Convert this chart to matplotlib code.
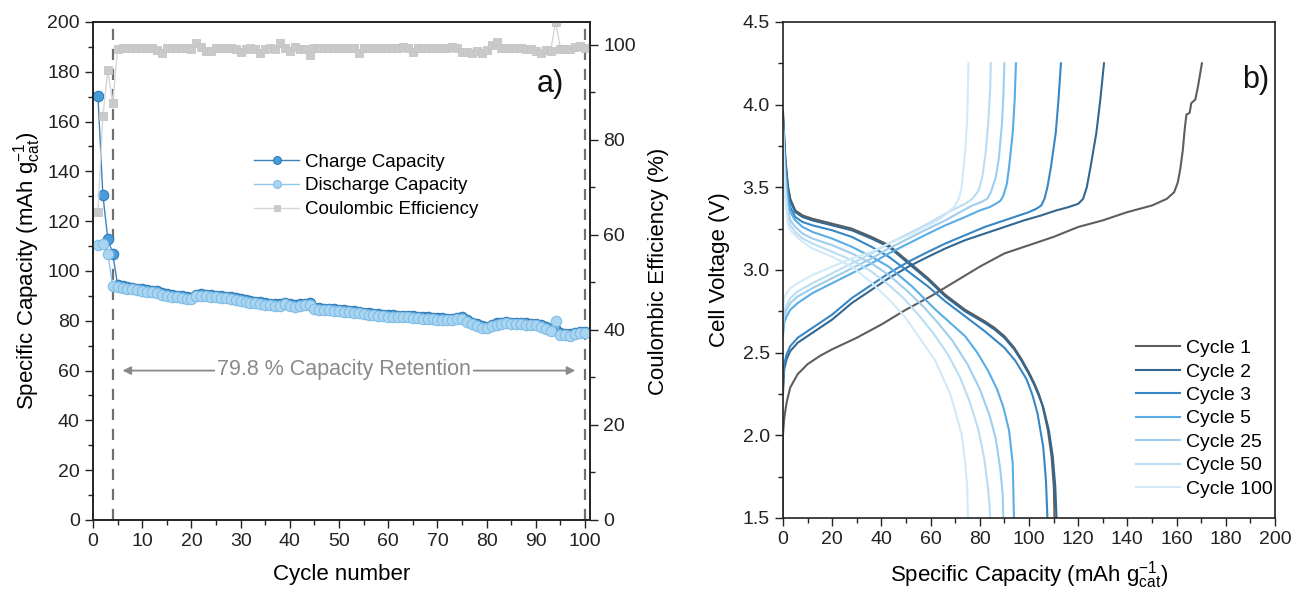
import matplotlib
matplotlib.use("Agg")
import matplotlib.pyplot as plt
from matplotlib.ticker import MultipleLocator

plt.rcParams["font.family"] = ["Liberation Sans", "DejaVu Sans"]
plt.rcParams["mathtext.fontset"] = "custom"
plt.rcParams["mathtext.rm"] = "Liberation Sans"
plt.rcParams["mathtext.it"] = "Liberation Sans"

# ---- panel a) data: cycle number 1..100 ----
cycles = list(range(1, 101))

charge = [
    170.3, 130.5, 113.0, 107.0, 94.3, 93.8, 93.5, 93.2, 92.9, 92.6,
    92.3, 92.0, 91.9, 91.2, 90.6, 90.3, 90.1, 89.9, 89.5, 89.3,
    90.3, 90.6, 90.4, 90.2, 90.0, 89.8, 89.6, 89.5, 89.2, 88.8,
    88.4, 88.0, 87.6, 87.4, 87.2, 86.9, 86.7, 86.6, 87.2, 86.6,
    86.3, 86.6, 86.9, 87.1, 85.3, 85.0, 84.9, 84.8, 84.7, 84.5,
    84.3, 84.1, 83.9, 83.6, 83.3, 83.0, 82.8, 82.6, 82.4, 82.3,
    82.2, 82.1, 82.0, 82.1, 81.8, 81.6, 81.5, 81.4, 81.3, 81.1,
    81.0, 80.9, 80.8, 81.2, 81.4, 80.3, 79.3, 78.6, 77.8, 77.6,
    78.5, 79.0, 79.2, 79.5, 79.3, 79.2, 79.1, 79.0, 78.9, 78.9,
    78.4, 77.6, 76.6, 76.2, 75.0, 74.8, 74.6, 75.0, 75.6, 75.4,
]

discharge = [
    110.4, 111.0, 107.0, 94.0, 93.6, 93.2, 92.9, 92.6, 92.3, 92.0,
    91.7, 91.4, 91.0, 90.5, 90.0, 89.7, 89.5, 89.3, 88.9, 88.6,
    89.8, 90.1, 89.8, 89.6, 89.4, 89.2, 89.0, 88.8, 88.5, 88.1,
    87.7, 87.3, 87.0, 86.7, 86.5, 86.2, 86.0, 85.9, 86.6, 86.0,
    85.6, 85.9, 86.3, 86.3, 84.7, 84.4, 84.3, 84.2, 84.1, 83.9,
    83.7, 83.5, 83.3, 83.0, 82.7, 82.4, 82.2, 82.0, 81.8, 81.7,
    81.6, 81.5, 81.4, 81.6, 81.2, 81.0, 80.9, 80.8, 80.7, 80.5,
    80.4, 80.3, 80.3, 80.7, 80.7, 79.6, 78.6, 77.9, 77.1, 77.0,
    78.0, 78.5, 78.7, 79.0, 78.8, 78.7, 78.6, 78.5, 78.4, 78.3,
    77.7, 76.9, 76.0, 80.0, 74.4, 74.2, 74.0, 74.6, 75.1, 75.0,
]

coulombic = [
    64.8, 85.0, 94.7, 87.8, 99.2, 99.4, 99.4, 99.3, 99.3, 99.4,
    99.4, 99.3, 99.0, 98.2, 99.3, 99.3, 99.4, 99.4, 99.3, 99.2,
    100.4, 99.5, 98.6, 98.7, 99.3, 99.3, 99.3, 99.3, 99.2, 98.4,
    99.2, 99.3, 99.2, 98.3, 99.2, 99.3, 99.2, 100.4, 99.3, 98.6,
    99.6, 99.2, 99.2, 97.8, 99.3, 99.3, 99.3, 99.3, 99.3, 99.3,
    99.3, 99.3, 99.3, 98.2, 99.3, 99.3, 99.3, 99.3, 99.3, 99.3,
    99.3, 99.4, 99.6, 99.3, 98.4, 99.3, 99.3, 99.3, 99.3, 99.3,
    99.3, 99.3, 99.6, 99.4, 98.5, 98.5, 98.2, 98.7, 98.3, 98.9,
    100.0, 100.6, 99.4, 99.3, 99.3, 99.3, 99.3, 99.2, 99.2, 98.6,
    98.3, 98.8, 98.6, 104.8, 99.2, 99.1, 99.2, 99.5, 99.8, 99.3,
]

# ---- panel b) voltage profiles: (capacity, voltage) for charge and discharge ----
cycle_labels = ["Cycle 1", "Cycle 2", "Cycle 3", "Cycle 5", "Cycle 25", "Cycle 50", "Cycle 100"]
cycle_colors = ["#5e5e5e", "#34678f", "#3787c6", "#58ade5", "#9fcdee", "#b9ddf4", "#d2e9f8"]

chg_q = [
    [0, 0, 0.5, 1.5, 3, 6, 10, 15, 20, 30, 40, 50, 60, 70, 80, 90, 100, 110, 120, 130, 140, 150, 156,
     159, 160.5, 161.5, 162.5, 163.3, 164, 165.3, 166, 167.6, 168.7, 170.3],
    [0, 0.5, 1.5, 3, 6, 12, 20, 28, 36, 43, 51, 59, 66, 74, 82, 90, 98, 105, 111, 116, 120, 122, 123.5,
     125, 127.4, 129, 130.5],
    [0, 0.5, 1.5, 3, 6, 12, 20, 28, 36, 43, 51, 59, 66, 74, 82, 90, 96, 100, 103, 105, 106.3, 107.5,
     108.9, 110.9, 112, 113],
    [0, 0.5, 1.5, 3, 6, 12, 20, 28, 36, 43, 51, 59, 66, 74, 80, 84, 86.5, 88.5, 89.6, 91, 91.9, 93.4,
     94.2, 94.7],
    [0, 0.5, 1.5, 3, 6, 12, 20, 28, 36, 43, 51, 59, 66, 72, 77, 80.5, 83, 84.5, 86.5, 87.8, 89, 89.6, 90],
    [0, 0.5, 1.5, 3, 6, 12, 20, 28, 36, 43, 51, 59, 66, 70, 74, 77, 79.5, 81, 82.5, 83.5, 84.2, 84.5],
    [0, 0.5, 1.5, 3, 6, 12, 20, 28, 36, 43, 51, 59, 63, 66.5, 69.5, 71.5, 72.6, 74.1, 74.9, 75.4],
]
chg_v = [
    [1.50, 2.00, 2.10, 2.20, 2.29, 2.37, 2.43, 2.48, 2.52, 2.59, 2.67, 2.76, 2.84, 2.93, 3.02, 3.10, 3.15,
     3.20, 3.26, 3.30, 3.35, 3.39, 3.43, 3.47, 3.53, 3.61, 3.72, 3.85, 3.94, 3.95, 4.01, 4.03, 4.11, 4.25],
    [2.25, 2.40, 2.46, 2.51, 2.56, 2.62, 2.70, 2.80, 2.88, 2.95, 3.02, 3.08, 3.13, 3.18, 3.22, 3.26, 3.30,
     3.33, 3.36, 3.38, 3.40, 3.43, 3.50, 3.62, 3.83, 4.03, 4.25],
    [2.28, 2.43, 2.49, 2.54, 2.59, 2.65, 2.73, 2.83, 2.91, 2.98, 3.05, 3.11, 3.16, 3.21, 3.26, 3.30, 3.33,
     3.35, 3.37, 3.39, 3.43, 3.50, 3.62, 3.83, 4.03, 4.25],
    [2.60, 2.68, 2.72, 2.76, 2.80, 2.86, 2.92, 2.98, 3.04, 3.10, 3.16, 3.22, 3.27, 3.32, 3.36, 3.38, 3.40,
     3.42, 3.45, 3.52, 3.62, 3.83, 4.03, 4.25],
    [2.64, 2.72, 2.76, 2.80, 2.84, 2.89, 2.95, 3.01, 3.07, 3.13, 3.19, 3.25, 3.30, 3.35, 3.39, 3.41, 3.43,
     3.47, 3.56, 3.68, 3.88, 4.05, 4.25],
    [2.68, 2.75, 2.79, 2.83, 2.87, 2.92, 2.98, 3.04, 3.10, 3.16, 3.22, 3.28, 3.34, 3.37, 3.40, 3.43, 3.48,
     3.56, 3.72, 3.90, 4.08, 4.25],
    [2.75, 2.83, 2.86, 2.89, 2.92, 2.97, 3.02, 3.07, 3.11, 3.16, 3.21, 3.27, 3.30, 3.34, 3.38, 3.43, 3.50,
     3.72, 3.92, 4.25],
]

dis_q = [
    [0, 0.5, 1, 2, 3, 5, 8, 12, 20, 28, 36, 43, 51, 59, 66, 74, 82, 86, 90, 94, 97, 100, 102, 104,
     105.5, 107.7, 109.2, 110.1, 110.4],
    [0, 0.5, 1, 2, 3, 5, 8, 12, 20, 28, 36, 43, 51, 59, 66, 74, 82, 86, 90, 94, 97, 100, 102, 104,
     105.8, 108.1, 109.7, 110.7, 111.2],
    [0, 0.5, 1, 2, 3, 5, 8, 12, 20, 28, 36, 43, 51, 59, 66, 74, 82, 86, 90, 94.5, 99, 101.5, 103.5,
     105.8, 106.9, 107.5],
    [0, 0.5, 1, 2, 3, 5, 8, 12, 20, 28, 36, 43, 52.5, 62, 68, 74, 79, 83.4, 87, 89.6, 91.9, 93.4, 93.9],
    [0, 0.5, 1, 2, 3, 5, 8, 12, 20, 28, 36, 43, 50, 57, 63, 69, 75, 80, 84, 86.5, 88.3, 89.3, 89.6],
    [0, 0.5, 1, 2, 3, 5, 8, 12, 20, 28, 36, 43, 49, 55, 61, 67, 72, 76, 79.5, 81.8, 83.2, 84, 84.2],
    [0, 0.5, 1, 2, 3, 5, 8, 12, 20, 28, 35.5, 43.2, 49.4, 55, 61.8, 68, 72.6, 74.1, 74.9, 75.2],
]
dis_v = [
    [3.96, 3.81, 3.67, 3.51, 3.43, 3.36, 3.33, 3.31, 3.28, 3.25, 3.20, 3.15, 3.05, 2.95, 2.85, 2.76, 2.69,
     2.65, 2.60, 2.53, 2.46, 2.38, 2.32, 2.25, 2.18, 2.03, 1.87, 1.69, 1.50],
    [3.95, 3.80, 3.66, 3.50, 3.42, 3.35, 3.32, 3.30, 3.27, 3.24, 3.19, 3.14, 3.04, 2.94, 2.84, 2.75, 2.68,
     2.64, 2.59, 2.52, 2.45, 2.37, 2.31, 2.24, 2.17, 2.03, 1.87, 1.69, 1.50],
    [3.92, 3.76, 3.62, 3.46, 3.38, 3.32, 3.29, 3.27, 3.24, 3.20, 3.14, 3.08, 2.99, 2.90, 2.81, 2.72, 2.63,
     2.58, 2.53, 2.45, 2.34, 2.24, 2.13, 1.93, 1.73, 1.50],
    [3.90, 3.72, 3.58, 3.42, 3.35, 3.30, 3.26, 3.23, 3.19, 3.14, 3.08, 3.02, 2.90, 2.76, 2.68, 2.60, 2.50,
     2.39, 2.28, 2.17, 2.03, 1.83, 1.50],
    [3.88, 3.68, 3.52, 3.36, 3.30, 3.26, 3.22, 3.19, 3.15, 3.10, 3.04, 2.97, 2.88, 2.78, 2.68, 2.57, 2.43,
     2.28, 2.12, 1.98, 1.80, 1.65, 1.50],
    [3.86, 3.65, 3.48, 3.32, 3.27, 3.23, 3.19, 3.16, 3.11, 3.06, 2.99, 2.91, 2.83, 2.73, 2.62, 2.49, 2.35,
     2.20, 2.03, 1.86, 1.70, 1.58, 1.50],
    [3.84, 3.60, 3.42, 3.28, 3.24, 3.21, 3.17, 3.13, 3.08, 3.02, 2.93, 2.82, 2.72, 2.60, 2.455, 2.25, 2.01,
     1.83, 1.69, 1.50],
]

retention_text = "79.8 % Capacity Retention"

fig = plt.figure(figsize=(13.01, 5.94), dpi=100)
ax = fig.add_axes([0.0715, 0.1246, 0.382, 0.8384])
ax2 = ax.twinx()
bx = fig.add_axes([0.6018, 0.128, 0.3782, 0.835])

tick_kw = dict(direction="out", labelsize=14, length=6, width=1, colors="#222222")
minor_kw = dict(direction="out", length=3.5, width=1, colors="#222222")
label_fs = 16

# ---- panel a) ----
ax.plot(cycles, charge, "-o", color="#3b83bd", lw=1.0, ms=7.5,
        mfc="#4a9ddb", mec="#2f79b5", mew=0.8, label="Charge Capacity", zorder=3)
ax.plot(cycles, discharge, "-o", color="#8ec5ea", lw=1.0, ms=7.5,
        mfc="#a9d5f1", mec="#7fbde6", mew=0.8, label="Discharge Capacity", zorder=4)
ax2.plot(cycles, coulombic, "-s", color="#d6d6d6", lw=1.0, ms=6,
         mfc="#cacaca", mec="#c4c4c4", mew=0.6, label="Coulombic Efficiency")

for xv in (4, 100):
    ax.axvline(xv, color="#707070", ls=(0, (5, 4)), lw=1.6, zorder=2)

ax.annotate("", xy=(6, 60), xytext=(98, 60),
            arrowprops=dict(arrowstyle="<|-|>", color="#8a8a8a", lw=1.3,
                            mutation_scale=12, shrinkA=0, shrinkB=0))
ax.text(51, 60.5, retention_text, ha="center", va="center", fontsize=15.5,
        color="#8a8a8a", bbox=dict(facecolor="white", edgecolor="none", pad=1.5), zorder=5)
ax.text(93, 175, "a)", ha="center", va="center", fontsize=22, color="#111111")

ax.set_xlim(0, 101)
ax.set_ylim(0, 200)
ax2.set_ylim(0, 104.8)
ax.xaxis.set_major_locator(MultipleLocator(10))
ax.xaxis.set_minor_locator(MultipleLocator(5))
ax.yaxis.set_major_locator(MultipleLocator(20))
ax.yaxis.set_minor_locator(MultipleLocator(10))
ax2.yaxis.set_major_locator(MultipleLocator(20))
ax2.yaxis.set_minor_locator(MultipleLocator(10))
for a in (ax, ax2):
    a.tick_params(which="major", **tick_kw)
    a.tick_params(which="minor", **minor_kw)
ax.set_xlabel("Cycle number", fontsize=label_fs, labelpad=10)
ax.set_ylabel(r"Specific Capacity (mAh g$_{\mathregular{cat}}^{\mathregular{-1}}$)", fontsize=label_fs, labelpad=3)
ax2.set_ylabel("Coulombic Efficiency (%)", fontsize=label_fs, labelpad=9)

handles = ax.get_legend_handles_labels()[0] + ax2.get_legend_handles_labels()[0]
ax2.legend(handles=handles, loc="upper left", bbox_to_anchor=(0.29, 0.77),
           frameon=False, fontsize=13.5, handlelength=2.4, labelspacing=0.36,
           handletextpad=0.3, markerscale=0.75)

# ---- panel b) ----
for i in range(len(cycle_labels)):
    bx.plot(chg_q[i], chg_v[i], color=cycle_colors[i], lw=1.5, label=cycle_labels[i])
    bx.plot(dis_q[i], dis_v[i], color=cycle_colors[i], lw=1.5)

bx.text(192, 4.15, "b)", ha="center", va="center", fontsize=22, color="#111111")
bx.set_xlim(0, 200)
bx.set_ylim(1.5, 4.5)
bx.xaxis.set_major_locator(MultipleLocator(20))
bx.xaxis.set_minor_locator(MultipleLocator(10))
bx.yaxis.set_major_locator(MultipleLocator(0.5))
bx.yaxis.set_minor_locator(MultipleLocator(0.25))
bx.yaxis.set_major_formatter(plt.FormatStrFormatter("%.1f"))
bx.tick_params(which="major", **tick_kw)
bx.tick_params(which="minor", **minor_kw)
bx.set_xlabel(r"Specific Capacity (mAh g$_{\mathregular{cat}}^{\mathregular{-1}}$)", fontsize=label_fs, labelpad=8)
bx.set_ylabel("Cell Voltage (V)", fontsize=label_fs, labelpad=9)
bx.legend(loc="upper left", bbox_to_anchor=(0.682, 0.395), frameon=False, fontsize=14,
          handlelength=2.25, labelspacing=0.3, handletextpad=0.3)

for a in (ax, ax2, bx):
    for s in a.spines.values():
        s.set_color("#222222")
        s.set_linewidth(1.2)

fig.savefig("out.png", dpi=100)
